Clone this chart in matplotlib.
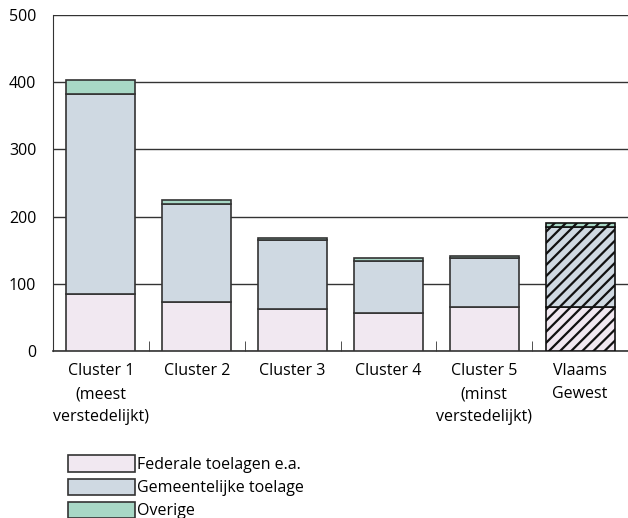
import matplotlib.pyplot as plt
import numpy as np

# Data
categories = ["Cluster 1\n(meest\nverstedelijkt)", "Cluster 2", "Cluster 3",
              "Cluster 4", "Cluster 5\n(minst\nverstedelijkt)", "Vlaams\nGewest"]
federale = [85, 73, 63, 57, 66, 66]
gemeente = [298, 146, 102, 77, 73, 119]
overige = [20, 6, 3, 4, 3, 5]

series_names = ["Federale toelagen e.a.", "Gemeentelijke toelage", "Overige"]
colors = ["#f1e8f1", "#cfd9e2", "#a8d8c6"]

plt.rcParams["font.family"] = ["Open Sans", "DejaVu Sans"]
plt.rcParams["hatch.linewidth"] = 1.6

fig = plt.figure(figsize=(6.28, 5.18), dpi=100)
ax = fig.add_axes([0.0844, 0.3224, 0.9156, 0.6486])

x = np.arange(len(categories))
width = 0.72
edge = "#333333"

bottom = np.zeros(len(categories))
handles = []
for vals, col, name in zip([federale, gemeente, overige], colors, series_names):
    vals = np.array(vals, dtype=float)
    bars = ax.bar(x, vals, width, bottom=bottom, color=col, edgecolor=edge,
                  linewidth=1.2, zorder=3, label=name)
    # last bar (Vlaams Gewest) is hatched
    bars[-1].set_hatch("///")
    bars[-1].set_edgecolor("#111111")
    handles.append(bars[0])
    bottom += vals

ax.set_xlim(-0.5, len(categories) - 0.5)
ax.set_ylim(0, 500)
ax.set_yticks([0, 100, 200, 300, 400, 500])
ax.yaxis.grid(True, color="#333333", linewidth=1.0, zorder=0)
ax.set_axisbelow(True)

ax.set_xticks(x)
ax.set_xticklabels(categories, fontsize=11.5, linespacing=1.55)
ax.set_xticks(np.arange(0.5, len(categories) - 0.5, 1), minor=True)
ax.tick_params(axis="x", which="major", length=0, pad=9)
ax.tick_params(axis="x", which="minor", direction="in", length=7, color="#333333")
ax.tick_params(axis="y", length=0, pad=12, labelsize=11.5)

ax.spines["right"].set_visible(False)
ax.spines["top"].set_visible(False)
ax.spines["left"].set_color("#333333")
ax.spines["bottom"].set_color("#333333")
ax.spines["bottom"].set_linewidth(1.2)

fig.legend(handles, series_names, loc="upper left", bbox_to_anchor=(0.098, 0.133),
           frameon=False, fontsize=11.5, handlelength=4.2, handleheight=1.2,
           handletextpad=0.1, labelspacing=0.35, borderaxespad=0)

fig.savefig("out.png", dpi=100)
